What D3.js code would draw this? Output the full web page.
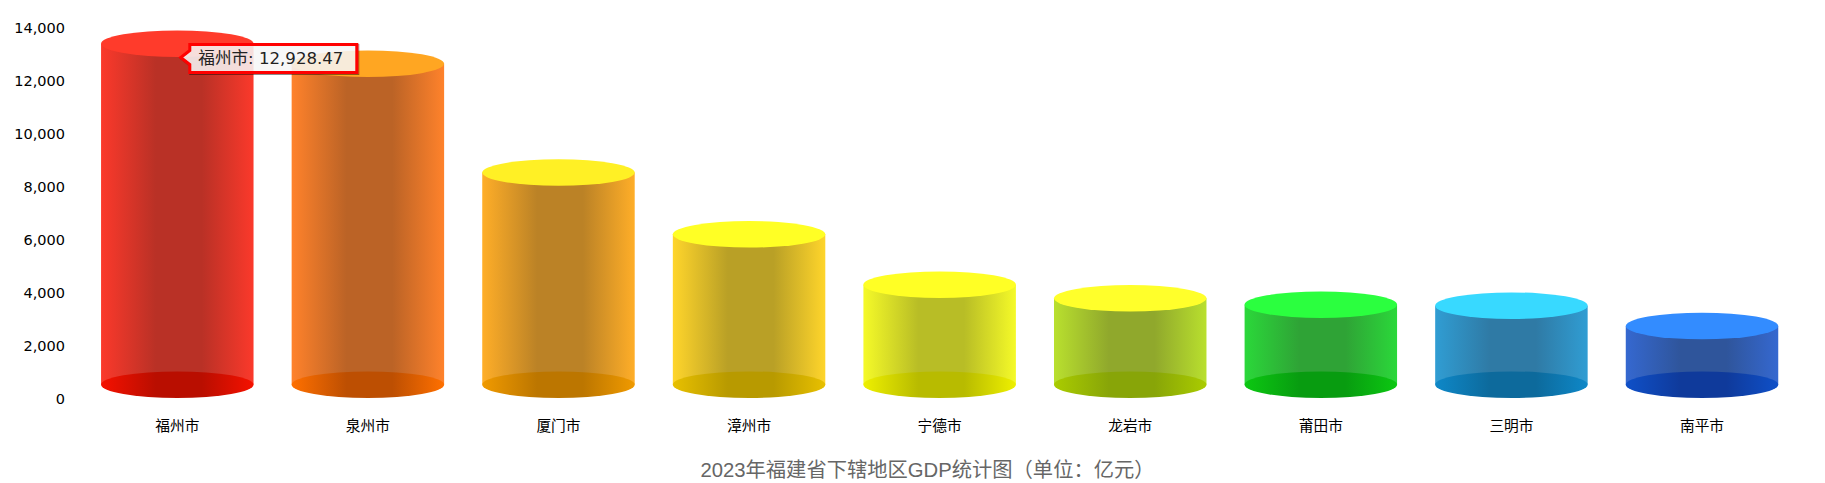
<!DOCTYPE html>
<html>
<head>
<meta charset="utf-8">
<script src="https://cdn.jsdelivr.net/npm/d3@7"></script>
<style>
	html, body { margin:0; padding:0; background:#fff; }
	svg { display:block; }
	text { font-family:"DejaVu Sans","Noto Sans CJK SC",sans-serif; }
	.title { font-family:"Liberation Sans","Noto Sans CJK SC",sans-serif; font-size:20.3px; fill:#666; }
	.xlabel { font-family:"Noto Sans CJK SC",sans-serif; font-size:14.7px; fill:#000; }
	.tick text { font-size:14.5px; fill:#000; }
</style>
</head>
<body>
<div id="chart"></div>
<script>
// data
const categories = ["福州市","泉州市","厦门市","漳州市","宁德市","龙岩市","莆田市","三明市","南平市"];
const gdpValues = [12928.47,12172,8066,5736,3834,3320,3079,3041,2275];
const yTicks = [0,2000,4000,6000,8000,10000,12000,14000];
const titleText = "2023年福建省下辖地区GDP统计图（单位：亿元）";

// colors: top face, body edge, body middle, base edge, base middle
const topColors = ["#ff3b2b","#ffa622","#fff025","#ffff25","#ffff25","#ffff2b","#2bff3f","#38d9ff","#338cff"];
const edgeColors = ["#fb392b","#ff822b","#ffae28","#ffd52b","#f5fa28","#b9e02e","#2bd83a","#309dd3","#3568d0"];
const midColors = ["#b93126","#bb6326","#bb8226","#b9a026","#b8bd26","#90a82c","#2fa336","#2f7aa5","#2f559b"];
const baseEdgeColors = ["#f51100","#ff7000","#f09a00","#e8c000","#eef000","#aacc00","#0cc812","#0e88c8","#0f50c8"];
const baseMidColors = ["#b90e00","#bd4f02","#bc7600","#b89a00","#b8bb00","#88a508","#089c10","#0d6a9c","#0f3a9b"];

// set up
const w = 1825;
const h = 483;
const ry = 13.3;
const edgeOffset = 1.6;

const x = d3.scaleBand()
	.domain(categories)
	.range([82,1797.3])
	.paddingInner(0.2)
	.paddingOuter(0.1);

const y = d3.scaleLinear()
	.domain([0,14000])
	.range([398,27]);

const svg = d3.select("#chart")
	.append("svg")
	.attr("width",w)
	.attr("height",h);

const defs = svg.append("defs");

function addGradient(id,edge,mid){
	const g = defs.append("linearGradient")
		.attr("id",id)
		.attr("x1","0%").attr("x2","100%")
		.attr("y1","0%").attr("y2","0%");
	[[0,edge],[0.36,mid],[0.66,mid],[1,edge]].forEach(s=>{
		g.append("stop").attr("offset",s[0]).attr("stop-color",s[1]);
	});
}

categories.forEach((c,i)=>{
	addGradient("body"+i,edgeColors[i],midColors[i]);
	addGradient("base"+i,baseEdgeColors[i],baseMidColors[i]);
});

const shadow = defs.append("filter")
	.attr("id","tipShadow")
	.attr("x","-10%").attr("y","-20%")
	.attr("width","125%").attr("height","150%");
shadow.append("feDropShadow")
	.attr("dx",1).attr("dy",1).attr("stdDeviation",0.6)
	.attr("flood-color","#000").attr("flood-opacity",0.45);

// y axis
const yAxis = d3.axisLeft(y)
	.tickValues(yTicks)
	.tickFormat(d3.format(","))
	.tickSize(0)
	.tickPadding(0);

svg.append("g")
	.attr("transform","translate(65,0)")
	.call(yAxis)
	.call(g=>g.select(".domain").remove())
	.selectAll("text")
	.attr("dy","0.36em");

// cylinders
const cyl = svg.selectAll(".cyl")
	.data(categories)
	.enter()
	.append("g")
	.attr("class","cyl");

const baseCy = y(0)+edgeOffset-ry-1.6;

cyl.append("rect")
	.attr("x",d=>x(d))
	.attr("width",x.bandwidth())
	.attr("y",(d,i)=>y(gdpValues[i])+edgeOffset-ry)
	.attr("height",(d,i)=>baseCy-(y(gdpValues[i])+edgeOffset-ry))
	.attr("fill",(d,i)=>`url(#body${i})`);

cyl.append("ellipse")
	.attr("cx",d=>x(d)+x.bandwidth()/2)
	.attr("cy",baseCy)
	.attr("rx",x.bandwidth()/2)
	.attr("ry",ry)
	.attr("fill",(d,i)=>`url(#base${i})`);

cyl.append("ellipse")
	.attr("cx",d=>x(d)+x.bandwidth()/2)
	.attr("cy",(d,i)=>y(gdpValues[i])+edgeOffset-ry)
	.attr("rx",x.bandwidth()/2)
	.attr("ry",ry)
	.attr("fill",(d,i)=>topColors[i]);

// category labels
svg.selectAll(".xlabel")
	.data(categories)
	.enter()
	.append("text")
	.attr("class","xlabel")
	.attr("x",d=>x(d)+x.bandwidth()/2)
	.attr("y",431)
	.attr("text-anchor","middle")
	.text(d=>d);

// title
svg.append("text")
	.attr("class","title")
	.attr("x",927.5)
	.attr("y",477)
	.attr("text-anchor","middle")
	.text(titleText);

// tooltip on the first bar
const tipX = x(categories[0])+x.bandwidth()/2+3.5;
const tipY = y(gdpValues[0])+edgeOffset+0.5;
const tip = svg.append("g")
	.attr("transform",`translate(${tipX},${tipY})`);

tip.append("path")
	.attr("d","M0,0 L9,-7 L9,-13 L176,-13 L176,15 L9,15 L9,7 Z")
	.attr("fill","#fff")
	.attr("fill-opacity",0.8)
	.attr("stroke","#ff0000")
	.attr("stroke-width",3)
	.attr("filter","url(#tipShadow)");

tip.append("text")
	.attr("x",17.5)
	.attr("y",6.5)
	.attr("font-size",16.6)
	.attr("fill","#222")
	.text(`${categories[0]}: ${d3.format(",.2f")(gdpValues[0])}`);
</script>
</body>
</html>
